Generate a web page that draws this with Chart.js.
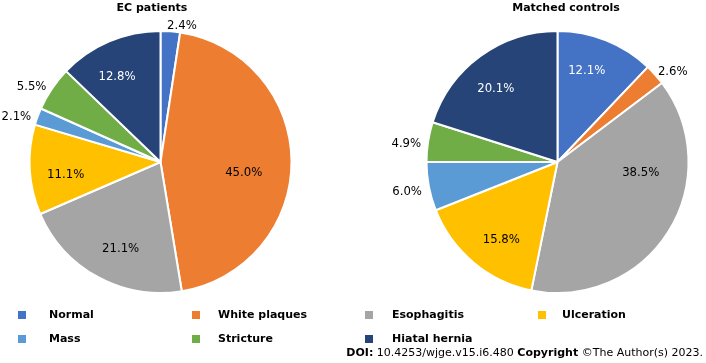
<!DOCTYPE html>
<html><head><meta charset="utf-8">
<script src="https://cdn.jsdelivr.net/npm/chart.js@4/dist/chart.umd.min.js"></script>
<style>
html,body{margin:0;padding:0;background:#fff;}
#wrap{position:relative;width:706px;height:363px;overflow:hidden;font-family:"DejaVu Sans",sans-serif;}
canvas{position:absolute;left:0;top:0;}
.title{position:absolute;top:1px;font-weight:bold;font-size:11px;color:#000;white-space:nowrap;transform:translateX(-50%);line-height:14px;}
.lg{position:absolute;font-weight:bold;font-size:11px;color:#000;white-space:nowrap;line-height:14px;}
.sq{position:absolute;width:8px;height:8px;}
#doi{position:absolute;right:3px;top:346px;font-size:11px;white-space:nowrap;color:#000;line-height:14px;}
</style></head>
<body><div id="wrap">
<canvas id="c1" width="706" height="363"></canvas>
<canvas id="c2" width="706" height="363"></canvas>
</div>
<script>
const categories = ["Normal","White plaques","Esophagitis","Ulceration","Mass","Stricture","Hiatal hernia"];
const ecPatients = [2.4,45.0,21.1,11.1,2.1,5.5,12.8];
const matchedControls = [12.1,2.6,38.5,15.8,6.0,4.9,20.1];
const colors = ["#4472C4","#ED7D31","#A5A5A5","#FFC000","#5B9BD5","#70AD47","#264478"];
const titles = ["EC patients","Matched controls"];

const wrap = document.getElementById('wrap');
const DEG = Math.PI/180;

const labelPlugin = {
  id:'pieLabels',
  afterDatasetsDraw(chart){
    const ctx = chart.ctx;
    const meta = chart.getDatasetMeta(0);
    const vals = chart.data.datasets[0].data;
    ctx.save();
    ctx.font = '13px "DejaVu Sans Condensed", "DejaVu Sans"';
    meta.data.forEach((arc,i)=>{
      const v = vals[i];
      const r = arc.outerRadius;
      const txt = v.toFixed(1)+'%';
      let a = (arc.startAngle+arc.endAngle)/2;
      if (v >= 7){
        let f = 0.73;
        if (v > 30){
          // large slices: label just below the horizontal axis, kept inside the slice
          const target = 7*DEG;
          const lo = arc.startAngle + 20*DEG, hi = arc.endAngle - 20*DEG;
          let t = target;
          while (t < lo) t += 2*Math.PI;
          a = Math.min(Math.max(t, lo), hi);
          f = 0.64;
        } else {
          a -= 4*DEG;
        }
        ctx.textAlign='center'; ctx.textBaseline='middle';
        ctx.fillStyle = (i===0||i===6) ? '#ffffff' : '#000000';
        ctx.fillText(txt, arc.x + Math.cos(a)*r*f, arc.y + Math.sin(a)*r*f);
      } else {
        const c = Math.cos(a), s = Math.sin(a);
        const d = r + 9;
        ctx.textAlign = c >= 0 ? 'left' : 'right';
        ctx.textBaseline='middle';
        ctx.fillStyle='#000000';
        ctx.fillText(txt, arc.x + c*d + (c>=0?-4:2), arc.y + s*d + 3);
      }
    });
    ctx.restore();
  }
};

function makePie(id, data, pad){
  return new Chart(document.getElementById(id), {
    type:'pie',
    data:{labels:categories, datasets:[{data:data, backgroundColor:colors, borderColor:'#ffffff', borderWidth:2}]},
    options:{
      responsive:false, animation:false, radius:131,
      layout:{padding:pad},
      plugins:{legend:{display:false}, tooltip:{enabled:false}}
    },
    plugins:[labelPlugin]
  });
}
makePie('c1', ecPatients, {left:0,right:385,top:0,bottom:39});
makePie('c2', matchedControls, {left:409,right:0,top:0,bottom:39});

// titles
[[titles[0],152],[titles[1],566]].forEach(([t,x])=>{
  const d=document.createElement('div'); d.className='title'; d.textContent=t; d.style.left=x+'px'; wrap.appendChild(d);
});

// legend
const sqX=[18,192,365,538], txX=[49,218,392,562];
categories.forEach((cat,i)=>{
  const row = Math.floor(i/4), col = i%4;
  const y = row===0 ? 311 : 335;
  const sq=document.createElement('div'); sq.className='sq';
  sq.style.left=sqX[col]+'px'; sq.style.top=y+'px'; sq.style.background=colors[i]; wrap.appendChild(sq);
  const t=document.createElement('div'); t.className='lg'; t.textContent=(i===1?' ':'')+cat;
  t.style.left=txX[col]+'px'; t.style.top=(y-3)+'px'; wrap.appendChild(t);
});

const doi=document.createElement('div'); doi.id='doi';
doi.innerHTML='<b>DOI:</b> 10.4253/wjge.v15.i6.480 <b>Copyright</b> ©The Author(s) 2023.';
wrap.appendChild(doi);
</script>
</body></html>
